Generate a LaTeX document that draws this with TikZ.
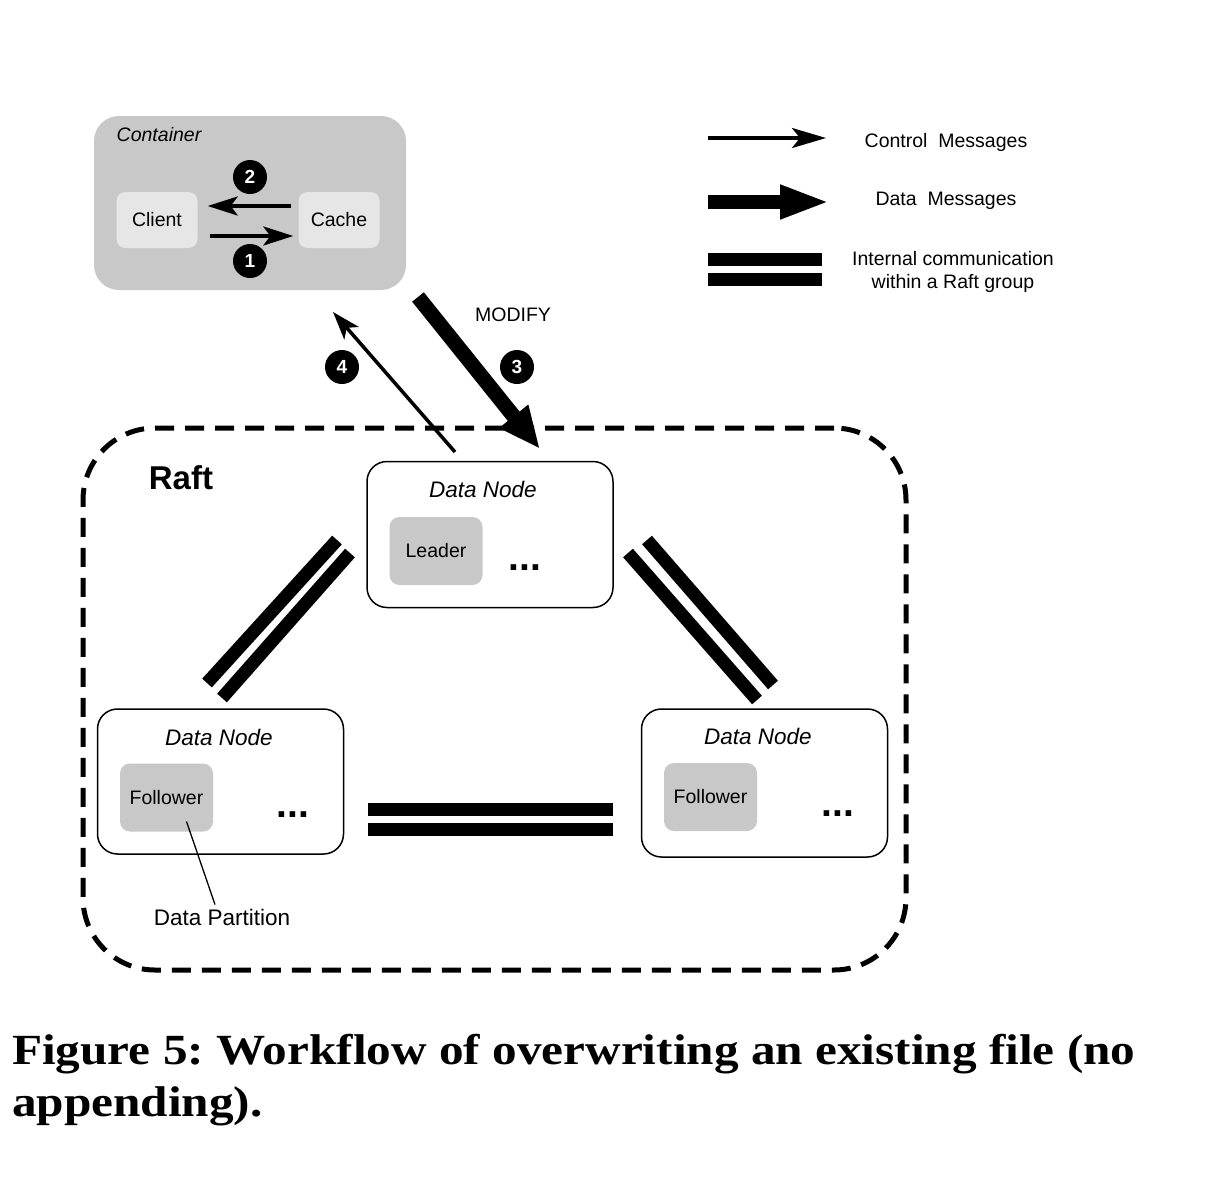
\documentclass[tikz,border=0pt]{standalone}
\usepackage{fontspec}
\setmainfont{Liberation Sans}
\newfontfamily\capfont[FakeStretch=1.145]{Liberation Serif}
\usetikzlibrary{arrows.meta}
\definecolor{contgray}{HTML}{C8C8C8}
\definecolor{boxlight}{HTML}{E6E6E6}
\definecolor{partgray}{HTML}{C8C8C8}
\begin{document}
\frenchspacing
\begin{tikzpicture}[x=1pt,y=-1pt,
  lbl/.style={inner sep=0pt, font=\fontsize{19.5}{23}\selectfont},
  titl/.style={inner sep=0pt, font=\itshape\fontsize{22.5}{26}\selectfont},
  ctrl/.style={line width=3.5pt, -{Stealth[length=30pt,width=19pt,inset=7pt]}},
  datamsg/.style={line width=15pt, -{Triangle[length=46pt,width=32pt]}},
  bar/.style={line width=13pt, line cap=butt},
  num/.style={circle, fill=black, minimum size=34pt, inner sep=0pt, text=white, font=\bfseries\fontsize{19}{19}\selectfont},
  smallbox/.style={rounded corners=9pt, minimum width=81pt, minimum height=56pt, inner sep=0pt, font=\fontsize{19.5}{23}\selectfont},
  partbox/.style={fill=partgray, rounded corners=10pt, minimum width=93pt, minimum height=68pt, inner sep=0pt, font=\fontsize{19.5}{23}\selectfont},
  dnode/.style={draw, line width=1.5pt, rounded corners=20pt, minimum width=246pt, minimum height=146pt, inner sep=0pt},
  dots/.style={inner sep=0pt, font=\bfseries\fontsize{39}{39}\selectfont},
  capt/.style={anchor=base west, inner sep=0pt, font=\capfont\bfseries\fontsize{43}{52}\selectfont}
]
\useasboundingbox (0,0) rectangle (1226,1184);

% Container
\node[fill=contgray, rounded corners=25pt, minimum width=312pt, minimum height=174pt, inner sep=0pt] (container) at (250,203) {};
\node[lbl, font=\itshape\fontsize{19.5}{23}\selectfont] (conttxt) at (159,135) {Container};
\node[smallbox, fill=boxlight] (client) at (157,220) {Client};
\node[smallbox, fill=boxlight] (cache) at (339,220) {Cache};
\draw[ctrl] ([yshift=-16pt,xshift=12pt]client.east) -- ([yshift=-16pt,xshift=-5pt]cache.west);
\draw[ctrl] ([yshift=14pt,xshift=-7pt]cache.west) -- ([yshift=14pt,xshift=10pt]client.east);
\node[num] (n2) at (250,177) {2};
\node[num] (n1) at (250,261) {1};

% Legend
\coordinate (lc1) at (708,138);
\coordinate (lc2) at (826,138);
\draw[ctrl, -{Stealth[length=34pt,width=20pt,inset=8pt]}] (lc1) -- (lc2);
\node[lbl] (lctxt) at (946,142) {Control\ \ Messages};
\coordinate (ld1) at (708,202);
\coordinate (ld2) at (830,202);
\draw[line width=14pt, -{Triangle[length=50pt,width=31pt]}] (ld1) -- (ld2);
\node[lbl] (ldtxt) at (946,201) {Data\ \ Messages};
\coordinate (lb1) at (708,259.5);
\coordinate (lb2) at (822,259.5);
\coordinate (lb3) at (708,279.5);
\coordinate (lb4) at (822,279.5);
\draw[bar] (lb1) -- (lb2);
\draw[bar] (lb3) -- (lb4);
\node[lbl, align=center, font=\fontsize{19.5}{23}\selectfont] (lbtxt) at (953,271.5) {Internal communication\\within a Raft group};

% Raft group
\node[draw, line width=5pt, dash pattern=on 19pt off 11pt, rounded corners=72pt, minimum width=823pt, minimum height=542pt, inner sep=0pt] (raft) at (494.5,699) {};
\node[inner sep=0pt, font=\bfseries\fontsize{33}{36}\selectfont] (rafttxt) at (181,478) {Raft};

% Leader data node
\node[dnode] (dnl) at (490,534.5) {};
\node[titl] (dnltxt) at (483,489) {Data Node};
\node[partbox] (leader) at (436,551) {Leader};
\node[dots] (dotsl) at (525,568) {...};

% Left follower data node
\node[dnode, minimum height=145pt] (dnf1) at (220.5,781.5) {};
\node[titl] (dnf1txt) at (219,737) {Data Node};
\node[partbox] (fol1) at (166.5,797.5) {Follower};
\node[dots] (dotsf1) at (293,815) {...};

% Right follower data node
\node[dnode, minimum height=148pt] (dnf2) at (764.5,783) {};
\node[titl] (dnf2txt) at (758,736) {Data Node};
\node[partbox] (fol2) at (710.5,797) {Follower};
\node[dots] (dotsf2) at (838,814) {...};

% Data partition label
\node[inner sep=0pt, font=\fontsize{22.5}{26}\selectfont] (dptxt) at (222,917) {Data Partition};
\draw[line width=1.3pt] ([xshift=20pt,yshift=-24pt]fol1.center) -- ([xshift=-7pt,yshift=4pt]dptxt.north);

% Raft internal links
\coordinate (la1) at (337,540); \coordinate (la2) at (207,683);
\coordinate (lb1b) at (350,553); \coordinate (lb2b) at (222,698);
\draw[bar] (la1) -- (la2);
\draw[bar] (lb1b) -- (lb2b);
\coordinate (ra1) at (647,540); \coordinate (ra2) at (773,685);
\coordinate (rb1) at (628,553); \coordinate (rb2) at (757,700);
\draw[bar] (ra1) -- (ra2);
\draw[bar] (rb1) -- (rb2);
\coordinate (h1) at (368,809.5); \coordinate (h2) at (613,809.5);
\coordinate (h3) at (368,829.5); \coordinate (h4) at (613,829.5);
\draw[bar] (h1) -- (h2);
\draw[bar] (h3) -- (h4);

% MODIFY and messages 3, 4
\node[lbl] (modtxt) at (513,315) {MODIFY};
\coordinate (a3s) at (418,297);
\coordinate (a3e) at (540,449);
\draw[datamsg, -{Triangle[length=42pt,width=34pt]}] (a3s) -- (a3e);
\coordinate (a4s) at (455,452);
\coordinate (a4e) at (333,312);
\draw[ctrl, -{Stealth[length=28pt,width=19pt,inset=7pt]}] (a4s) -- (a4e);
\node[num] (n4) at (342,367) {4};
\node[num] (n3) at (517,367) {3};

% Caption
\node[capt] (cap1) at (12,1064) {Figure 5: Workflow of overwriting an existing file (no};
\node[capt] (cap2) at (12,1116) {appending).};
\end{tikzpicture}
\end{document}
